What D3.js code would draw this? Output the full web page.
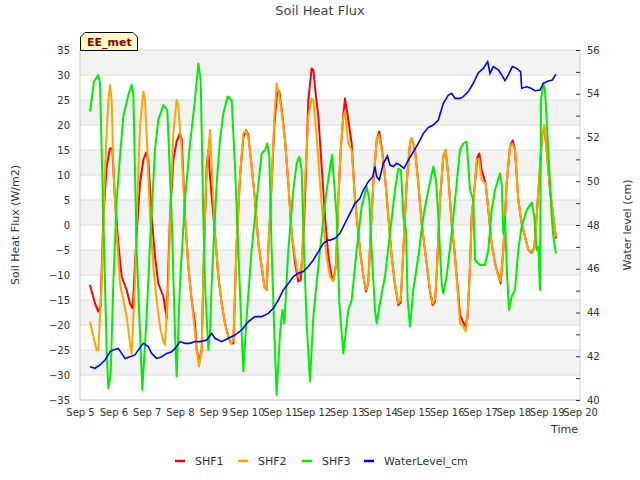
<!DOCTYPE html>
<html>
<head>
<meta charset="utf-8">
<script src="https://cdn.jsdelivr.net/npm/d3@7"></script>
<style>
  body { margin: 0; background: #fff; }
  text { font-family: "DejaVu Sans", sans-serif; }
</style>
</head>
<body>
<div id="chart"></div>
<script>
// days are fractional days of September
var shf1Day = [5.30, 5.45, 5.55, 5.62, 5.70, 5.80, 5.90, 5.97, 6.05, 6.15, 6.25, 6.40, 6.50, 6.58, 6.70, 6.80, 6.90, 6.98, 7.05, 7.15, 7.25, 7.35, 7.50, 7.58, 7.60, 7.70, 7.80, 7.90, 8.00, 8.05, 8.15, 8.25, 8.35, 8.45, 8.50, 8.58, 8.65, 8.72, 8.80, 8.85, 8.90, 8.96,
  9.05, 9.15, 9.25, 9.35, 9.45, 9.53, 9.60, 9.70, 9.80, 9.90, 9.98, 10.05, 10.15, 10.25, 10.35, 10.45, 10.53, 10.60, 10.65, 10.75, 10.83, 10.92, 10.98, 11.07, 11.15, 11.25, 11.35, 11.45, 11.55, 11.62, 11.68, 11.75, 11.85, 11.95, 12.00, 12.07, 12.15, 12.25, 12.35, 12.45, 12.55, 12.60, 12.68, 12.75, 12.82, 12.90, 12.95, 13.05, 13.15, 13.25, 13.40, 13.50, 13.58, 13.65, 13.72, 13.80, 13.90, 13.98,
  14.05, 14.15, 14.25, 14.35, 14.45, 14.55, 14.62, 14.70, 14.80, 14.90, 14.95, 15.05, 15.15, 15.25, 15.40, 15.50, 15.58, 15.65, 15.70, 15.80, 15.90, 15.97, 16.05, 16.15, 16.25, 16.35, 16.40, 16.50, 16.57, 16.63, 16.70, 16.75, 16.83, 16.92, 16.98, 17.05, 17.17, 17.25, 17.35, 17.45, 17.55, 17.62, 17.70, 17.80, 17.90, 17.98, 18.05, 18.15, 18.25, 18.35, 18.45, 18.55, 18.63, 18.70, 18.80, 18.87, 18.93, 19.00, 19.10, 19.20, 19.28];
var shf1 = [-12, -15.7, -17.3, -16.3, 1.7, 11.7, 15.3, 15.3, 5, -3.7, -10.3, -13, -15.7, -16.7, -1.7, 8.3, 13, 14.5, 13, 1.7, -6.3, -11.7, -14.3, -17.7, -18.7, 1.7, 13, 16.7, 18.3, 17.3, 1.7, -8.3, -15, -19.7, -25, -27.3, -25, -5, 11.7, 15, 9.7, 5,
  -1.7, -10.3, -15.7, -19.7, -22.3, -23.7, -23.7, -3.7, 9.7, 17.5, 19, 18, 11.7, 5, -3.7, -8.3, -12.3, -13, -5, 8.3, 20, 27, 26.7, 22, 17, 8.3, -1.7, -7.5, -11.3, -11, -5, 5, 25, 31.3, 31, 26.3, 21.7, 11.7, 1.7, -6.3, -10.3, -11, -8, 5, 15, 22, 25.3, 21, 16.3, 5, -5, -10.3, -13.3, -11.5, -1.7, 8.3, 17, 18.7,
  15.5, 9.7, 1.7, -6.3, -12, -16, -15.5, -5, 8.3, 16.3, 17.3, 15, 8.3, 0.3, -7.7, -13.3, -16, -15.3, -10, 5, 13.7, 15, 9.7, 0.3, -6.3, -14, -18, -19.5, -20.3, -18, -8.3, 1.7, 7, 13.5, 14.3, 11, 8.3, 3, -3.7, -7.7, -10, -11.7, -5, 8.3, 15.7, 16.9, 15, 5, 0.3, -2.3, -5, -5.5, -4.5, 1.7, 11.7, 18.3, 19.5, 15, 7, 1.7, -2.7];

var shf2Day = [5.30, 5.40, 5.50, 5.55, 5.65, 5.72, 5.78, 5.85, 5.90, 5.95, 6.00, 6.10, 6.20, 6.30, 6.40, 6.50, 6.55, 6.65, 6.72, 6.80, 6.90, 6.95, 7.02, 7.10, 7.20, 7.30, 7.40, 7.50, 7.55, 7.65, 7.72, 7.80, 7.90, 7.95, 8.05, 8.15, 8.25, 8.40, 8.50, 8.57, 8.65, 8.72, 8.78, 8.85, 8.90, 8.95,
  9.05, 9.15, 9.25, 9.35, 9.45, 9.53, 9.60, 9.70, 9.80, 9.90, 9.97, 10.05, 10.15, 10.25, 10.35, 10.45, 10.53, 10.60, 10.65, 10.75, 10.83, 10.90, 10.97, 11.07, 11.15, 11.25, 11.35, 11.45, 11.55, 11.65, 11.75, 11.85, 11.95, 12.00, 12.10, 12.20, 12.30, 12.40, 12.50, 12.60, 12.68, 12.75, 12.82, 12.90, 12.95, 13.05, 13.15, 13.25, 13.40, 13.50, 13.58, 13.65, 13.72, 13.80, 13.90, 13.97,
  14.05, 14.15, 14.25, 14.35, 14.45, 14.55, 14.62, 14.70, 14.80, 14.90, 14.95, 15.05, 15.15, 15.25, 15.40, 15.50, 15.58, 15.65, 15.70, 15.80, 15.90, 15.97, 16.05, 16.15, 16.25, 16.35, 16.40, 16.50, 16.57, 16.63, 16.70, 16.75, 16.83, 16.90, 16.97, 17.05, 17.17, 17.25, 17.35, 17.45, 17.55, 17.62, 17.70, 17.80, 17.90, 17.97, 18.05, 18.15, 18.25, 18.35, 18.45, 18.55, 18.63, 18.70, 18.80, 18.87, 18.93, 19.00, 19.10, 19.20, 19.28];
var shf2 = [-19.3, -22.3, -25, -25, -11.7, 5, 15.7, 25, 28, 25, 11.7, -1.7, -11.7, -15, -18.3, -23.7, -25.7, -11.7, 5, 19.7, 26.7, 25, 15, 1.7, -8.3, -15, -20.3, -23.3, -24, -11.7, 5, 18.3, 25, 23.7, 15, 1.7, -8.3, -18.3, -25, -28.3, -25, -5, 8.3, 15, 19, 11.7,
  -1.7, -10.3, -15.7, -19.7, -22.3, -23.7, -23, -3.7, 9.7, 18.3, 19, 17.7, 11.7, 5, -3.7, -8.3, -12.3, -13, -5, 8.3, 21.7, 28.3, 26.3, 21.7, 17, 8.3, -1.7, -6.3, -10.3, -8.3, 8.3, 21.7, 25.3, 25, 17.7, 8.3, 0.3, -6.3, -10.3, -11.3, -8, 5, 15, 21.7, 22.7, 16.3, 15, 5, -5, -10.3, -13, -11.5, -1.7, 8.3, 17, 18,
  15, 9.7, 1.7, -6.3, -11.7, -15.7, -15, -5, 8.3, 16.3, 17.3, 15, 8.3, 0.3, -7.7, -13, -15.7, -15, -10, 5, 13.7, 15, 9.7, 0.3, -6.3, -15, -19.7, -20.3, -21.3, -18, -8.3, 1.7, 7, 13, 13.3, 9, 8.3, 3, -3.7, -7.7, -10.3, -11.3, -5, 8.3, 15.7, 16.3, 15, 5, 0.3, -2.3, -5, -5.3, -4.5, 1.7, 11.7, 18.3, 20, 15, 7, 1.7, -2.3];

var shf3Day = [5.30, 5.35, 5.42, 5.55, 5.60, 5.70, 5.80, 5.85, 5.92, 6.00, 6.10, 6.20, 6.30, 6.45, 6.55, 6.60, 6.70, 6.87, 7.00, 7.10, 7.25, 7.35, 7.50, 7.62, 7.75, 7.85, 7.90, 8.00, 8.15, 8.30, 8.45, 8.55, 8.62, 8.70, 8.75, 8.85, 8.90, 8.95,
  9.10, 9.20, 9.30, 9.43, 9.55, 9.65, 9.75, 9.85, 9.90, 10.00, 10.15, 10.30, 10.45, 10.55, 10.62, 10.68, 10.75, 10.83, 10.90, 11.00, 11.07, 11.13, 11.25, 11.40, 11.50, 11.58, 11.65, 11.72, 11.80, 11.90, 12.00, 12.20, 12.40, 12.56, 12.70, 12.78, 12.90, 13.05, 13.15, 13.30, 13.45, 13.60, 13.68, 13.75, 13.85, 13.90,
  14.05, 14.15, 14.30, 14.45, 14.55, 14.63, 14.70, 14.78, 14.83, 14.90, 15.00, 15.15, 15.30, 15.45, 15.60, 15.68, 15.75, 15.85, 15.90, 16.00, 16.15, 16.30, 16.40, 16.50, 16.60, 16.70, 16.80, 16.85, 17.00, 17.15, 17.25, 17.35, 17.45, 17.60, 17.65, 17.70, 17.75, 17.80, 17.87, 17.95, 18.05, 18.15, 18.25, 18.40, 18.55, 18.63, 18.70, 18.75, 18.80, 18.83, 18.90, 18.95, 19.05, 19.15, 19.20, 19.28];
var shf3 = [22.7, 25, 28.7, 30, 28.3, 1.7, -25, -32.7, -29.7, -11.7, 5, 13.7, 21.7, 26, 28, 26.3, -5, -33, -18.3, -3.7, 15, 21, 24, 23, 1.7, -21.7, -30.3, -11.7, 5, 16.3, 25, 32.3, 29, 1.7, -12, -25, -21.7, -11.7,
  8.3, 17, 22.3, 25.7, 25, 11.7, -5, -21.7, -29.3, -18.3, -5, 5, 14.3, 15, 16.3, 13.7, -5, -21.7, -34, -21.7, -17, -19.7, -5, 7, 12.3, 13.7, 11, -5, -19.7, -31.3, -18.3, -5, 7, 14, 1.7, -15.7, -25.7, -17, -15, -5, 3.7, 7.7, 5, -5, -17, -19.7,
  -13.7, -10.3, -1.7, 7, 11.3, 11, 1.7, -1, -15, -20.3, -13, -6.3, 1.7, 7, 11.7, 9, 1.7, -11.7, -13.7, -10.3, -1.7, 8.3, 15, 16.3, 16.7, 7, 5, -7, -8, -8, -5, 3, 7, 10.3, 8.3, -1.7, 1.7, -8.3, -17, -14.3, -13, -5, -0.3, 3, 4.5, 1.7, -5, -4.3, -13, 25, 28.3, 27, 15, 1.7, -2.3, -5.7];

var waterDay = [5.30, 5.45, 5.60, 5.75, 5.90, 6.00, 6.15, 6.25, 6.35, 6.50, 6.65, 6.75, 6.90, 7.05, 7.15, 7.30, 7.45, 7.60, 7.75, 7.85, 8.00, 8.15, 8.30, 8.45, 8.60, 8.80, 8.95, 9.05, 9.25, 9.45, 9.65, 9.85, 10.05, 10.25, 10.45, 10.65, 10.80, 10.95, 11.10, 11.25, 11.40, 11.55, 11.70, 11.85, 12.00, 12.15, 12.30, 12.45, 12.50,
  12.65, 12.80, 12.95, 13.10, 13.25, 13.40, 13.50, 13.65, 13.78, 13.85, 13.90, 13.98, 14.10, 14.22, 14.30, 14.40, 14.50, 14.60, 14.72, 14.85, 15.00, 15.15, 15.30, 15.45, 15.60, 15.75, 15.90, 16.05, 16.15, 16.25, 16.40, 16.50, 16.65, 16.80, 16.95, 17.10, 17.23, 17.30, 17.40, 17.55, 17.65, 17.75, 17.85, 17.97, 18.10, 18.22, 18.25, 18.40, 18.53, 18.65, 18.80, 18.90, 19.05, 19.17, 19.28];
var water = [41.52, 41.45, 41.6, 41.83, 42.2, 42.29, 42.36, 42.13, 41.9, 41.98, 42.06, 42.29, 42.59, 42.44, 42.13, 41.9, 41.98, 42.13, 42.2, 42.36, 42.67, 42.59, 42.59, 42.67, 42.67, 42.74, 43.05, 42.82, 42.67, 42.82, 42.97, 43.2, 43.58, 43.81, 43.81, 43.96, 44.19, 44.57, 45.03, 45.33, 45.64, 45.79, 45.87, 46.1, 46.4, 46.78, 47.16, 47.31, 47.31,
  47.39, 47.62, 48.08, 48.53, 48.99, 49.22, 49.6, 49.98, 50.21, 50.67, 50.21, 50.06, 50.82, 51.15, 50.74, 50.67, 50.82, 50.74, 50.59, 50.97, 51.35, 51.73, 52.19, 52.46, 52.57, 52.8, 53.56, 53.94, 54.02, 53.79, 53.79, 53.87, 54.1, 54.48, 54.96, 55.16, 55.47, 54.93, 55.24, 55.09, 54.86, 54.6, 54.86, 55.24, 55.16, 55.01, 54.25, 54.32, 54.25, 54.14, 54.17, 54.48, 54.58, 54.63, 54.89];

var leftTicks = d3.range(-35, 36, 5);
var rightTicks = d3.range(40, 57, 1);
var seriesNames = ["SHF1", "SHF2", "SHF3", "WaterLevel_cm"];
var seriesColors = ["#ff0000", "#ffa500", "#00ee00", "#0000ff"];

var svgWidth = 640;
var svgHeight = 480;
var margin = { top: 50, right: 60, bottom: 80, left: 80 };
var width = svgWidth - margin.left - margin.right;
var height = svgHeight - margin.top - margin.bottom;

function toDate(day) {
  return new Date(Date.UTC(2023, 8, 1) + (day - 1) * 864e5);
}
function pairs(days, vals) {
  return days.map(function(d, i) { return { t: toDate(d), v: vals[i] }; });
}

var svg = d3.select("#chart").append("svg")
  .attr("width", svgWidth)
  .attr("height", svgHeight);

var chartGroup = svg.append("g")
  .attr("transform", `translate(${margin.left}, ${margin.top})`);

var x = d3.scaleUtc().domain([toDate(5), toDate(20)]).range([0, width]);
var yLeft = d3.scaleLinear().domain([-35, 35]).range([height, 0]);
var yRight = d3.scaleLinear().domain([40, 56]).range([height, 0]);

// alternating bands
var bandTops = leftTicks.slice(1).filter(function(d, i) { return i % 2 === 1; });
chartGroup.selectAll("rect.band")
  .data(bandTops)
  .enter().append("rect")
  .attr("x", 0)
  .attr("width", width)
  .attr("y", d => yLeft(d))
  .attr("height", d => yLeft(d - 5) - yLeft(d))
  .attr("fill", "#f3f3f3");

// grid lines
chartGroup.selectAll("line.grid")
  .data(leftTicks)
  .enter().append("line")
  .attr("x1", 0).attr("x2", width)
  .attr("y1", d => yLeft(d)).attr("y2", d => yLeft(d))
  .attr("stroke", "#dcdcdc");

// frame
chartGroup.append("line").attr("x1", 0).attr("x2", 0).attr("y1", 0).attr("y2", height).attr("stroke", "#ccc");
chartGroup.append("line").attr("x1", width).attr("x2", width).attr("y1", 0).attr("y2", height).attr("stroke", "#ccc");
chartGroup.append("line").attr("x1", 0).attr("x2", width).attr("y1", height).attr("y2", height).attr("stroke", "#ccc");

// lines
var leftLine = d3.line().x(d => x(d.t)).y(d => yLeft(d.v));
var rightLine = d3.line().x(d => x(d.t)).y(d => yRight(d.v));

var seriesData = [pairs(shf1Day, shf1), pairs(shf2Day, shf2), pairs(shf3Day, shf3)];
seriesData.forEach(function(s, i) {
  chartGroup.append("path")
    .datum(s)
    .attr("fill", "none")
    .attr("stroke", seriesColors[i])
    .attr("stroke-width", 2)
    .attr("stroke-linejoin", "round")
    .attr("d", leftLine);
});
chartGroup.append("path")
  .datum(pairs(waterDay, water))
  .attr("fill", "none")
  .attr("stroke", seriesColors[3])
  .attr("stroke-width", 1.6)
  .attr("d", rightLine);

// axes
var bottomAxis = d3.axisBottom(x)
  .ticks(d3.utcDay.every(1))
  .tickFormat(d3.utcFormat("%b %-d"))
  .tickSize(0).tickPadding(9);
var gx = chartGroup.append("g").attr("transform", `translate(0, ${height})`).call(bottomAxis);

var leftAxis = d3.axisLeft(yLeft).tickValues(leftTicks).tickSize(0).tickPadding(10);
var gy = chartGroup.append("g").call(leftAxis);

var rightAxis = d3.axisRight(yRight).tickValues(rightTicks)
  .tickSize(-4).tickPadding(7)
  .tickFormat(d => d % 2 === 0 ? d : "");
var gr = chartGroup.append("g").attr("transform", `translate(${width}, 0)`).call(rightAxis);

[gx, gy, gr].forEach(function(g) {
  g.select(".domain").remove();
  g.selectAll("text").attr("font-size", 10).attr("fill", "#333").attr("font-family", "DejaVu Sans, sans-serif");
});
gr.selectAll("line").attr("stroke", "#333");

// titles
svg.append("text")
  .attr("x", 320).attr("y", 15)
  .attr("text-anchor", "middle")
  .attr("font-size", 13)
  .attr("fill", "#444")
  .text("Soil Heat Flux");

svg.append("text")
  .attr("transform", `translate(19, ${margin.top + height / 2}) rotate(-90)`)
  .attr("text-anchor", "middle")
  .attr("font-size", 11)
  .attr("fill", "#333")
  .text("Soil Heat Flux (W/m2)");

svg.append("text")
  .attr("transform", `translate(631, ${margin.top + height / 2}) rotate(-90)`)
  .attr("text-anchor", "middle")
  .attr("font-size", 11)
  .attr("fill", "#333")
  .text("Water level (cm)");

svg.append("text")
  .attr("x", 578).attr("y", 433)
  .attr("text-anchor", "end")
  .attr("font-size", 11)
  .attr("fill", "#333")
  .text("Time");

// EE_met tag
svg.append("path")
  .attr("d", "M80.5,50.5 L80.5,37 L85,32.5 L133,32.5 L137.5,37 L137.5,50.5 Z")
  .attr("fill", "#ffffc8")
  .attr("stroke", "#000")
  .attr("stroke-width", 1);
svg.append("text")
  .attr("x", 87).attr("y", 46)
  .attr("font-size", 11)
  .attr("font-weight", "bold")
  .attr("fill", "#8b0000")
  .text("EE_met");

// legend
var legendX = [175, 238, 302, 364];
var legend = svg.selectAll("g.legend")
  .data(seriesNames)
  .enter().append("g")
  .attr("transform", (d, i) => `translate(${legendX[i]}, 461)`);
legend.append("line")
  .attr("x1", 0).attr("x2", 10)
  .attr("stroke", (d, i) => seriesColors[i])
  .attr("stroke-width", 2.5);
legend.append("text")
  .attr("x", 20).attr("y", 4)
  .attr("font-size", 11)
  .attr("fill", "#333")
  .text(d => d);
</script>
</body>
</html>
